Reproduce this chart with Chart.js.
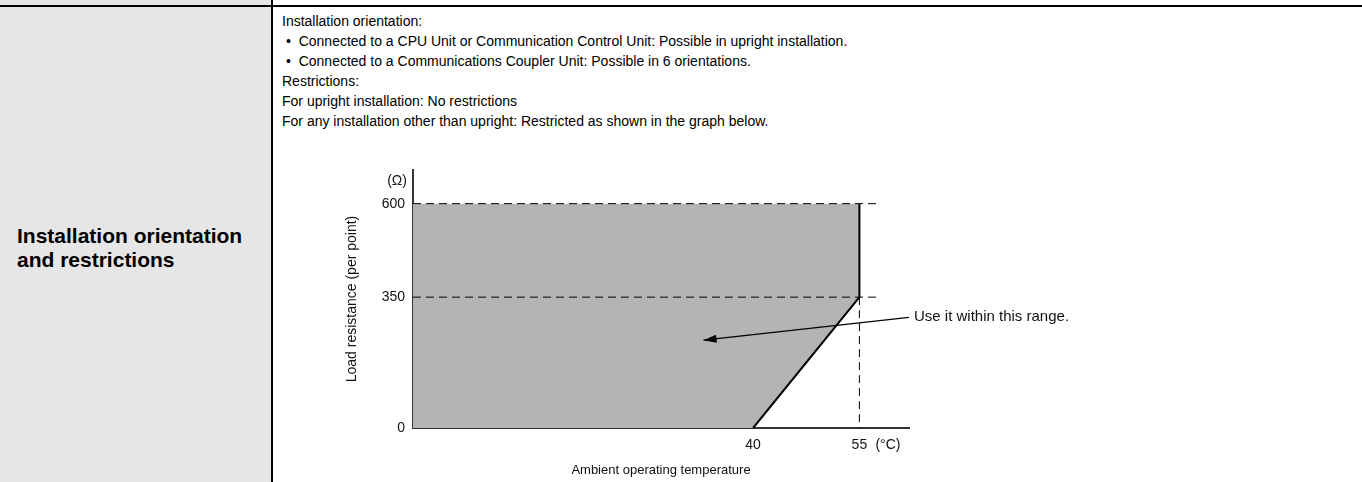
<!DOCTYPE html>
<html>
<head>
<meta charset="utf-8">
<script src="https://cdn.jsdelivr.net/npm/chart.js@4/dist/chart.umd.min.js"></script>
<style>
  body { margin: 0; width: 1362px; height: 482px; overflow: hidden; background: #fff;
         font-family: "Liberation Sans", Arial, sans-serif; color: #000; }
  .leftcol { position: absolute; left: 0; top: 0; width: 272px; height: 482px; background: #e6e6e6; }
  .hline { position: absolute; left: 0; top: 5px; width: 1362px; height: 2px; background: #000; }
  .vline { position: absolute; left: 271px; top: 0; width: 2px; height: 482px; background: #000; }
  .head { position: absolute; left: 17px; top: 224px; font-weight: bold; font-size: 21px; line-height: 24px; white-space: nowrap; }
  .body { position: absolute; left: 282px; top: 11px; font-size: 14px; line-height: 20px; white-space: nowrap; }
  .body .b { padding-left: 4px; }
  #wrap { position: absolute; left: 300px; top: 150px; width: 860px; height: 332px; }
</style>
</head>
<body>
<div class="leftcol"></div>
<div class="hline"></div>
<div class="vline"></div>
<div class="head">Installation orientation<br>and restrictions</div>
<div class="body">
  Installation orientation:<br>
  <span class="b">•&nbsp;&nbsp;Connected to a CPU Unit or Communication Control Unit: Possible in upright installation.</span><br>
  <span class="b">•&nbsp;&nbsp;Connected to a Communications Coupler Unit: Possible in 6 orientations.</span><br>
  Restrictions:<br>
  For upright installation: No restrictions<br>
  For any installation other than upright: Restricted as shown in the graph below.
</div>
<div id="wrap"><canvas id="grafico"></canvas></div>

<script>
// derating: minimum load resistance vs ambient temperature
const tempPoints = [40, 55];       // °C
const minLoad = [0, 350];          // Ω at those temperatures
const maxLoad = 600;               // Ω upper limit
const xTicks = [40, 55];
const yTicks = [0, 350, 600];

// schematic axes (the drawing is not to scale)
const X_MIN = -8, X_MAX = 62, Y_MAX = 690;
const DASH_END = 58;
const arrowFrom = [62, 296];
const arrowTo = [33, 235];

const FONT = "'Liberation Sans', Arial, sans-serif";
const GRIS = "#b3b4b6";

const lower = [{ x: X_MIN, y: minLoad[0] }].concat(tempPoints.map((t, i) => ({ x: t, y: minLoad[i] })));
const upper = [{ x: X_MIN, y: maxLoad }, { x: tempPoints[1], y: maxLoad }];
const edge = [
  { x: tempPoints[1], y: maxLoad },
  { x: tempPoints[1], y: minLoad[1] },
  { x: tempPoints[0], y: minLoad[0] }
];

function linea(data, extra) {
  return Object.assign({
    data: data, showLine: true, pointRadius: 0, borderColor: "#000",
    borderWidth: 1, fill: false, tension: 0, order: 0
  }, extra || {});
}

const flecha = {
  id: "flecha",
  afterDatasetsDraw(chart) {
    const ctx = chart.ctx;
    const meta = chart.getDatasetMeta(6);
    const p0 = meta.data[0], p1 = meta.data[1];
    const ang = Math.atan2(p1.y - p0.y, p1.x - p0.x);
    ctx.save();
    ctx.fillStyle = "#000";
    ctx.beginPath();
    ctx.moveTo(p1.x, p1.y);
    ctx.lineTo(p1.x - 13 * Math.cos(ang) + 4 * Math.sin(ang), p1.y - 13 * Math.sin(ang) - 4 * Math.cos(ang));
    ctx.lineTo(p1.x - 13 * Math.cos(ang) - 4 * Math.sin(ang), p1.y - 13 * Math.sin(ang) + 4 * Math.cos(ang));
    ctx.closePath();
    ctx.fill();

    ctx.font = "15px " + FONT;
    ctx.fillStyle = "#111";
    ctx.textBaseline = "middle";
    ctx.textAlign = "left";
    ctx.fillText("Use it within this range.", p0.x + 5, p0.y);

    const x = chart.scales.x, y = chart.scales.y;
    ctx.font = "14px " + FONT;
    ctx.textAlign = "right";
    ctx.fillText("(Ω)", y.right - 6, chart.chartArea.top + 11);
    ctx.textAlign = "left";
    ctx.fillText("(°C)", x.getPixelForValue(55) + 16, x.top + 17);
    ctx.restore();
  }
};

new Chart(document.getElementById("grafico"), {
  type: "scatter",
  data: {
    datasets: [
      linea(lower, { borderWidth: 0, fill: "+1", backgroundColor: GRIS, order: 10 }),
      linea(upper, { borderWidth: 0, order: 9 }),
      linea([{ x: X_MIN, y: maxLoad }, { x: DASH_END, y: maxLoad }], { borderDash: [8, 5] }),
      linea([{ x: X_MIN, y: minLoad[1] }, { x: DASH_END, y: minLoad[1] }], { borderDash: [8, 5] }),
      linea([{ x: tempPoints[1], y: minLoad[1] }, { x: tempPoints[1], y: 0 }], { borderDash: [8, 5] }),
      linea(edge, { borderWidth: 2 }),
      linea([{ x: arrowFrom[0], y: arrowFrom[1] }, { x: arrowTo[0], y: arrowTo[1] }], { borderWidth: 1.3 })
    ]
  },
  options: {
    responsive: true,
    maintainAspectRatio: false,
    animation: false,
    layout: { padding: { left: 0, top: 20, right: 251, bottom: 0 } },
    plugins: { legend: { display: false }, tooltip: { enabled: false } },
    scales: {
      x: {
        type: "linear", min: X_MIN, max: X_MAX,
        afterBuildTicks: (s) => { s.ticks = xTicks.map(v => ({ value: v })); },
        afterFit: (s) => { s.height = 54; },
        grid: { display: false, drawTicks: false },
        border: { display: true, color: "#333", width: 2 },
        ticks: { padding: 9, color: "#111", font: { family: FONT, size: 14 } },
        title: { display: true, text: "Ambient operating temperature", color: "#111",
                 font: { family: FONT, size: 13 }, padding: { top: 0, bottom: 4 } }
      },
      y: {
        type: "linear", min: 0, max: Y_MAX,
        afterBuildTicks: (s) => { s.ticks = yTicks.map(v => ({ value: v })); },
        afterFit: (s) => { s.width = 113; },
        grid: { display: false, drawTicks: false },
        border: { display: true, color: "#333", width: 2 },
        ticks: { padding: 8, color: "#111", font: { family: FONT, size: 14 } },
        title: { display: true, text: "Load resistance (per point)", color: "#111",
                 font: { family: FONT, size: 14 }, padding: { top: 44, bottom: 0 } }
      }
    }
  },
  plugins: [flecha]
});
</script>
</body>
</html>
